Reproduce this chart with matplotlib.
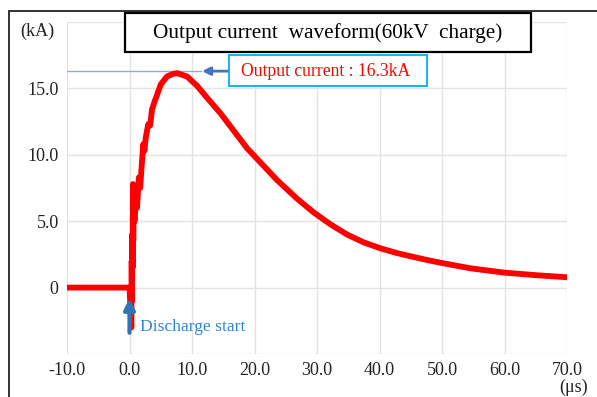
import numpy as np
import matplotlib.pyplot as plt
from matplotlib.patches import Rectangle

plt.rcParams['font.family'] = ['Liberation Serif', 'DejaVu Serif']

# waveform (time in us, current in kA)
time_us = [-10.0, 0.0, 0.3, 0.35, 0.4, 0.45, 0.5, 0.55, 0.6, 0.7, 0.8, 1.0,
           1.2, 1.5, 1.7, 2.0, 2.2, 2.4, 2.6, 3.0, 3.3, 3.6, 4.0, 4.4, 5.0,
           6.0, 7.0, 7.6, 9.2, 10.8, 12.4, 14.6, 16.7, 18.8, 21.0, 23.6,
           26.8, 29.5, 32.2, 34.8, 37.5, 40.2, 42.8, 45.5, 48.2, 50.0, 54.6,
           59.9, 65.2, 70.0]
current_ka = [0.0, 0.0, -3.0, 2.0, -1.0, 4.0, 1.5, 7.8, 3.5, 7.6, 5.0, 7.5,
              6.0, 8.3, 7.5, 9.5, 10.8, 10.3, 11.3, 12.3, 12.2, 13.4, 14.0,
              14.5, 15.3, 15.9, 16.1, 16.15, 15.9, 15.2, 14.3, 13.1, 11.8,
              10.5, 9.4, 8.1, 6.7, 5.65, 4.75, 4.0, 3.4, 2.95, 2.6, 2.3,
              2.02, 1.85, 1.45, 1.13, 0.93, 0.78]

x_ticks = [-10, 0, 10, 20, 30, 40, 50, 60, 70]
x_labels = ['-10.0', '0.0', '10.0', '20.0', '30.0', '40.0', '50.0', '60.0', '70.0']
y_ticks = [-5, 0, 5, 10, 15, 20]
y_labels = ['', '0', '5.0', '10.0', '15.0', '']

peak_ka = 16.3
W, H = 597, 397


def fx(px):
    return px / W


def fy(py):
    return 1 - py / H


fig = plt.figure(figsize=(5.97, 3.97), dpi=100)
ax = fig.add_axes([fx(67), fy(354), fx(567) - fx(67), fy(22) - fy(354)])

# outer frame (only left/top visible in the reference)
fig.patches.append(Rectangle((fx(9), -0.1), 1.2, fy(11) + 0.1, transform=fig.transFigure,
                             fill=False, edgecolor='#222222', lw=1.3))

ax.plot(time_us, current_ka, color='#ff0000', lw=4.2, solid_capstyle='round',
        solid_joinstyle='round', zorder=3)

ax.set_xlim(-10, 70)
ax.set_ylim(-5, 20)
ax.set_xticks(x_ticks)
ax.set_xticklabels(x_labels)
ax.set_yticks(y_ticks)
ax.set_yticklabels(y_labels)
ax.tick_params(length=0, labelsize=13, colors='#222222', pad=6)
ax.grid(True, color='#e3e3e3', lw=1.0)
ax.set_axisbelow(True)
for s in ax.spines.values():
    s.set_visible(False)

fig.text(fx(37), fy(31), '(kA)', ha='center', va='center', fontsize=13, color='#222222')
fig.text(fx(574), fy(387), '(\u03bcs)', ha='center', va='center', fontsize=13, color='#222222')

# title box
fig.patches.append(Rectangle((fx(125), fy(52)), fx(531) - fx(125), fy(13) - fy(52),
                             transform=fig.transFigure, facecolor='white',
                             edgecolor='black', lw=1.6, zorder=5))
fig.text(fx(328), fy(33), 'Output current  waveform(60kV  charge)', ha='center',
         va='center', fontsize=15.3, color='black', zorder=6)

# peak marker line + annotation
ax.plot([-10, 11.4], [peak_ka, peak_ka], color='#8faadc', lw=1.0, zorder=2)
ax.annotate('', xy=(11.6, peak_ka), xytext=(16.0, peak_ka),
            arrowprops=dict(arrowstyle='-|>', color='#4472c4', lw=2,
                            mutation_scale=12, shrinkA=0, shrinkB=0))
fig.patches.append(Rectangle((fx(229), fy(86)), fx(427) - fx(229), fy(55) - fy(86),
                             transform=fig.transFigure, facecolor='white',
                             edgecolor='#00b0f0', lw=1.3, zorder=5))
fig.text(fx(326), fy(71), 'Output current : %.1fkA' % peak_ka, ha='center',
         va='center', fontsize=12.7, color='#ff0000', zorder=6)

# discharge start
ax.annotate('', xy=(0, -0.8), xytext=(0, -3.4),
            arrowprops=dict(arrowstyle='-|>', color='#2e75b6', lw=3,
                            mutation_scale=16, shrinkA=0, shrinkB=0), zorder=4)
ax.text(1.6, -2.95, 'Discharge start', ha='left', va='center', fontsize=12.6,
        color='#2e86d0')

fig.savefig('out.png', dpi=100)
